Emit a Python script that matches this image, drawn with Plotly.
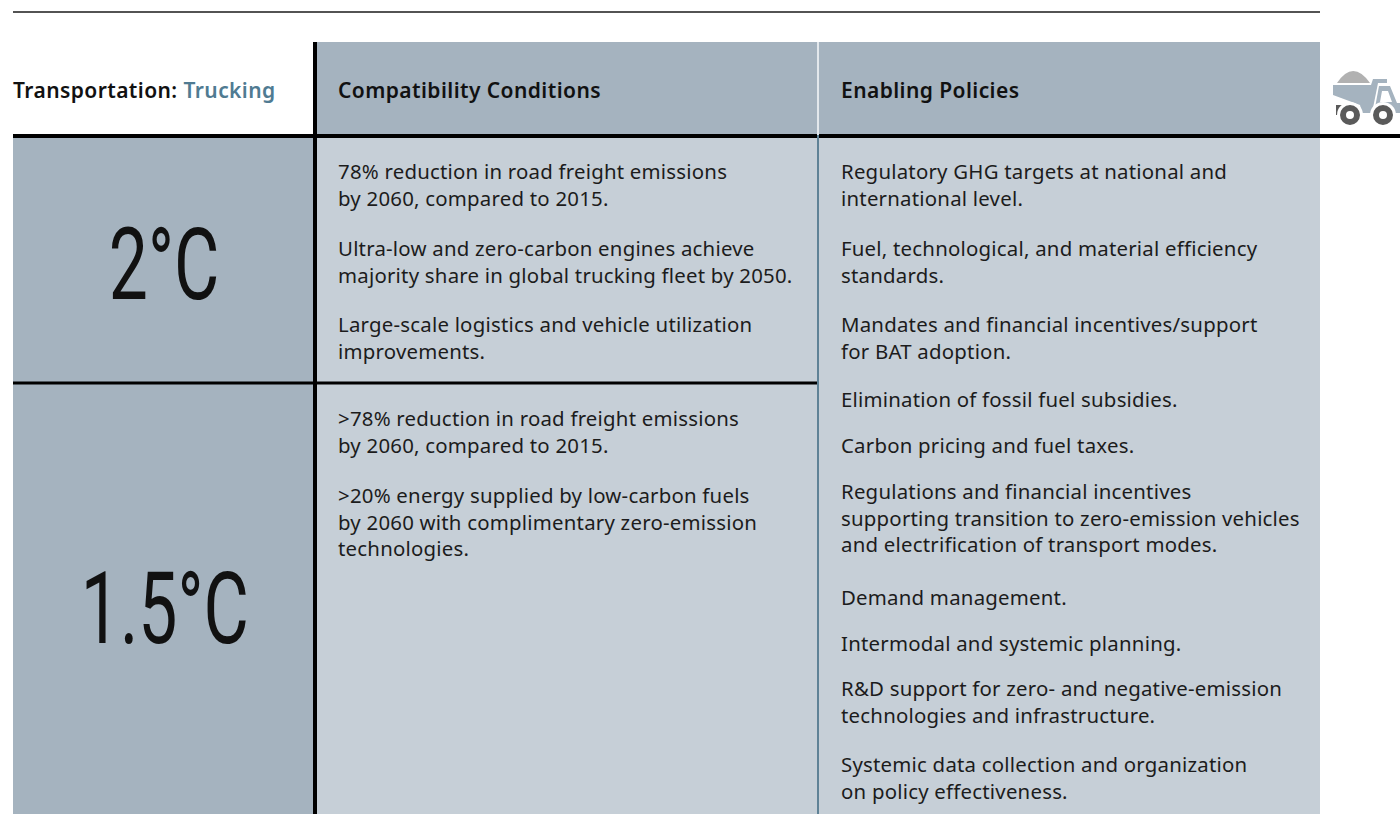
import plotly.graph_objects as go

W, H = 1400, 814
HEADER_L = ["Transportation: ", "Trucking"]
HEADERS = ["Compatibility Conditions", "Enabling Policies"]
SCEN = ["2°C", "1.5°C"]
COND_2 = [(161, "78% reduction in road freight emissions<br>by 2060, compared to 2015."),
          (238, "Ultra-low and zero-carbon engines achieve<br>majority share in global trucking fleet by 2050."),
          (314, "Large-scale logistics and vehicle utilization<br>improvements.")]
COND_15 = [(408, ">78% reduction in road freight emissions<br>by 2060, compared to 2015."),
           (485, ">20% energy supplied by low-carbon fuels<br>by 2060 with complimentary zero-emission<br>technologies.")]
POL = [(161, "Regulatory GHG targets at national and<br>international level."),
       (238, "Fuel, technological, and material efficiency<br>standards."),
       (314, "Mandates and financial incentives/support<br>for BAT adoption."),
       (389, "Elimination of fossil fuel subsidies."),
       (435, "Carbon pricing and fuel taxes."),
       (481, "Regulations and financial incentives<br>supporting transition to zero-emission vehicles<br>and electrification of transport modes."),
       (587, "Demand management."),
       (633, "Intermodal and systemic planning."),
       (678, "R&D support for zero- and negative-emission<br>technologies and infrastructure."),
       (754, "Systemic data collection and organization<br>on policy effectiveness.")]

FONT = "Noto Sans"
shapes = []
def rect(x0, y0, x1, y1, c):
    shapes.append(dict(type="rect", xref="x", yref="y", x0=x0, y0=y0, x1=x1, y1=y1,
                       fillcolor=c, line=dict(width=0), layer="below"))
def line(x0, y0, x1, y1, c, w):
    shapes.append(dict(type="line", xref="x", yref="y", x0=x0, y0=y0, x1=x1, y1=y1,
                       line=dict(color=c, width=w)))

rect(313, 42, 1320, 135, "#a5b3bf")
rect(13, 135, 313, 814, "#a5b3bf")
rect(313, 135, 1320, 814, "#c6cfd7")
line(13, 12, 1320, 12, "#1a1a1a", 1.5)
line(13, 136, 1400, 136, "#000000", 4)
line(13, 383, 818, 383, "#000000", 3)
line(315, 42, 315, 814, "#000000", 4)
line(818, 42, 818, 135, "#e3e8ec", 2)
line(818, 135, 818, 814, "#5f8296", 2)

# truck icon
def path(p, c):
    shapes.append(dict(type="path", xref="x", yref="y", path=p, fillcolor=c, line=dict(width=0)))
path("M 1337 83 Q 1353 59 1370 83 Z", "#b1b1b1")
path("M 1333 85 L 1371 85 L 1373 79 L 1387 79 L 1387 83 L 1378 83 L 1372 113 L 1362 113 L 1360 105 L 1333 95 Z", "#a5b3bf")
path("M 1379 86 L 1390 86 L 1397 103 L 1400 103 L 1400 113 L 1374 113 Z M 1382 91 L 1380 102 L 1392 102 L 1388 91 Z", "#a5b3bf")
shapes.append(dict(type="rect", xref="x", yref="y", x0=1336, y0=105, x1=1346, y1=115, fillcolor="#5a5a5a", line=dict(width=0)))
for cx in (1350, 1383):
    shapes.append(dict(type="circle", xref="x", yref="y", x0=cx-13, y0=102, x1=cx+13, y1=128, fillcolor="#ffffff", line=dict(width=0)))
    shapes.append(dict(type="circle", xref="x", yref="y", x0=cx-7, y0=108, x1=cx+7, y1=122, fillcolor="#ffffff", line=dict(color="#5a5a5a", width=6)))

ann = []
def text(x, y, t, size=20, color="#1c1c1c", anchor="left", yanchor="top", family=FONT, weight=None):
    f = dict(family=family, size=size, color=color)
    if weight: f["weight"] = weight
    ann.append(dict(x=x, y=y, xref="x", yref="y", text=t, showarrow=False, xanchor=anchor,
                    yanchor=yanchor, align="left", borderpad=0, font=f))

text(12, 90, f"{HEADER_L[0]}<span style='color:#507b92'>{HEADER_L[1]}</span>", yanchor="middle", size=21, color="#111111", weight=600)
text(337, 90, HEADERS[0], yanchor="middle", size=21, color="#111111", weight=600)
text(840, 90, HEADERS[1], yanchor="middle", size=21, color="#111111", weight=600)
text(164, 264, SCEN[0], size=101, anchor="center", yanchor="middle", family="Roboto", color="#111111", weight=400)
text(165, 608, SCEN[1], size=101, anchor="center", yanchor="middle", family="Roboto", color="#111111", weight=400)
for y, t in COND_2 + COND_15:
    text(337, y - 5, t, size=20.4)
for y, t in POL:
    text(840, y - 5, t, size=20.4)

fig = go.Figure()
fig.add_trace(go.Scatter(x=[0, W], y=[0, H], mode="markers", marker=dict(opacity=0), hoverinfo="skip", showlegend=False))
fig.update_layout(width=W, height=H, margin=dict(l=0, r=0, t=0, b=0), autosize=False,
                  paper_bgcolor="#ffffff", plot_bgcolor="#ffffff", shapes=shapes, annotations=ann,
                  xaxis=dict(range=[0, W], visible=False, fixedrange=True),
                  yaxis=dict(range=[H, 0], visible=False, fixedrange=True))
POST = """
document.body.style.margin='0';document.body.style.overflow='hidden';
document.querySelectorAll('text.annotation-text').forEach(function(e){
  if(e.textContent.indexOf('\\u00b0C')>=0){
    e.style.transformBox='fill-box';e.style.transformOrigin='center';e.style.transform='scaleX(0.69)';
  } else if(parseInt(getComputedStyle(e).fontWeight)>=600){
    e.style.letterSpacing='0.42px';
  } else {
    e.style.letterSpacing='0.22px';
  }
});
"""
fig.write_html("out.html", config=dict(displayModeBar=False), post_script=POST)
